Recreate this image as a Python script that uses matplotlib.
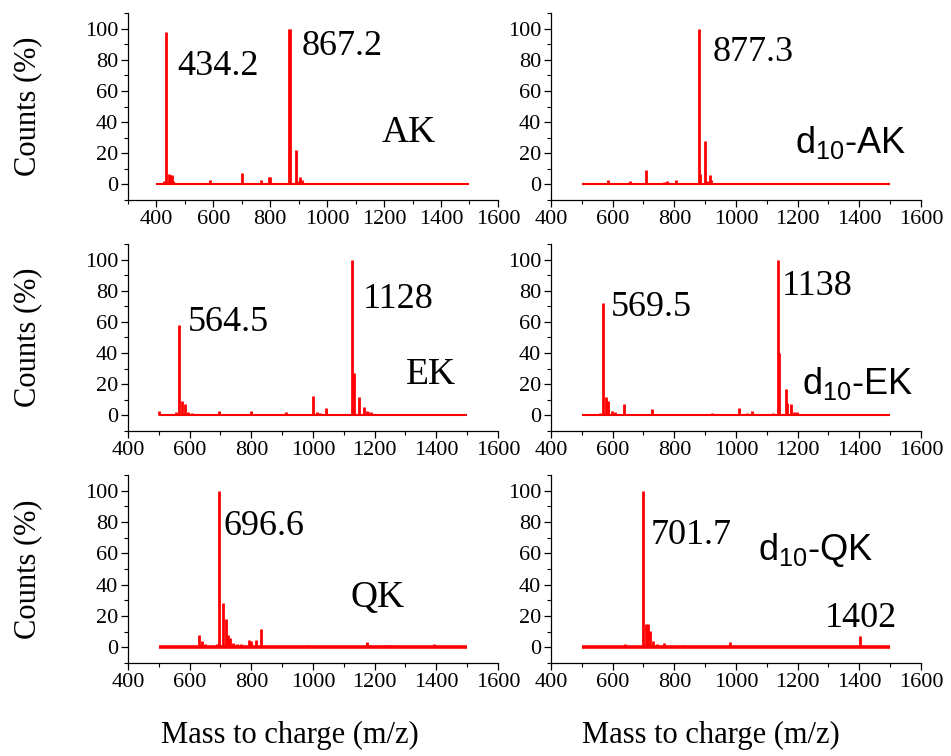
import matplotlib
matplotlib.use("Agg")
import matplotlib.pyplot as plt
from matplotlib.ticker import MultipleLocator

plt.rcParams["font.family"] = "Liberation Serif"
plt.rcParams["mathtext.fontset"] = "custom"
plt.rcParams["mathtext.rm"] = "Liberation Sans"
plt.rcParams["mathtext.it"] = "Liberation Sans"

# peak lists (m/z, relative counts %)
ak_mz = [425, 435, 445, 449, 453, 457, 470, 588, 650, 700, 722, 767, 797, 800,
         867, 870, 889, 901, 904, 910, 916, 966, 1272, 1293, 1363]
ak_int = [2, 98, 7, 6, 6, 2, 1, 3, 0.5, 7.5, 1, 3, 5, 5,
          100, 100, 22, 2, 5, 3, 1, 0.5, 0.5, 0.5, 0.5]
ak_range = [400, 1500]

dak_mz = [543, 586, 657, 709, 733, 766, 777, 805, 830, 879, 882, 899, 907, 915,
          920, 977, 1004, 1110, 1281, 1308, 1350, 1368]
dak_int = [1, 3, 2, 9, 0.8, 1.5, 2, 3, 0.5, 100, 7, 28, 2, 6,
           3, 1, 0.5, 0.5, 0.5, 0.5, 0.5, 0.5]
dak_range = [500, 1500]

ek_mz = [502, 523, 556, 566, 576, 585, 593, 607, 630, 696, 799, 870, 877, 912,
         999, 1013, 1023, 1042, 1128, 1133, 1150, 1167, 1175, 1180, 1188, 1198, 1259]
ek_int = [3, 1, 2, 58, 9, 7, 2, 1.5, 1, 3, 3, 1, 1, 2.5,
          12.5, 2, 1.5, 4.5, 100, 27, 11.5, 5.5, 3, 2, 2.5, 1, 0.5]
ek_range = [500, 1500]

dek_mz = [503, 527, 559, 569, 579, 586, 598, 609, 622, 638, 706, 726, 806, 922,
          1009, 1036, 1051, 1070, 1121, 1137, 1141, 1161, 1167, 1177, 1188, 1199, 1215, 1232]
dek_int = [1, 1, 1.5, 72, 12, 9, 3, 2, 1, 7.5, 1, 4, 1, 1.5,
           4.5, 1.5, 3, 1, 1.5, 100, 40, 17, 8, 7.5, 2, 2.5, 0.5, 0.5]
dek_range = [500, 1500]

qk_mz = [574, 631, 639, 650, 688, 696, 707, 717, 725, 731, 742, 752, 768, 794, 798,
         814, 830, 845, 870, 895, 920, 979, 1174, 1185, 1210, 1238, 1251, 1264, 1394]
qk_int = [1, 8, 4, 2, 2, 100, 28, 18, 8, 6, 3, 2, 2, 5, 4,
          4.5, 12, 1, 1, 1, 1, 1.5, 3.5, 1.5, 1.5, 1.5, 1.5, 1.5, 2]
qk_range = [500, 1500]

dqk_mz = [576, 630, 641, 674, 700, 709, 715, 722, 731, 744, 766, 804, 831, 893,
          982, 1042, 1161, 1287, 1403, 1427, 1443]
dqk_int = [0.5, 1, 2, 1, 100, 15, 15, 10.5, 4, 2, 2.5, 1, 1.5, 1,
           3.5, 0.5, 0.5, 0.5, 7, 0.5, 0.5]
dqk_range = [500, 1500]

fig = plt.figure(figsize=(9.51, 7.56), dpi=100)

left_x, right_x, w = 0.1346, 0.5794, 0.389
rows_y = [0.7354, 0.4299, 0.123]
h = 0.2474


def panel(pos, mz, inten, rng, xlim, base_lw):
    ax = fig.add_axes(pos)
    ax.plot(rng, [0, 0], color="red", lw=base_lw, solid_capstyle="butt")
    ax.vlines(mz, 0, inten, color="red", lw=2.0)
    ax.set_xlim(*xlim)
    ax.set_ylim(-10, 110)
    ax.set_xticks(range(400, 1601, 200))
    ax.xaxis.set_minor_locator(MultipleLocator(100))
    ax.set_yticks(range(0, 101, 20))
    ax.yaxis.set_minor_locator(MultipleLocator(10))
    for s in ("top", "right"):
        ax.spines[s].set_visible(False)
    for s in ("left", "bottom"):
        ax.spines[s].set_linewidth(0.9)
    ax.tick_params(which="major", direction="out", length=5, width=0.9,
                   labelsize=16, pad=2)
    ax.tick_params(which="minor", direction="out", length=3, width=0.8)
    return ax


ax1 = panel([left_x, rows_y[0], w, h], ak_mz, ak_int, ak_range, (300, 1600), 1.5)
ax2 = panel([right_x, rows_y[0], w, h], dak_mz, dak_int, dak_range, (400, 1600), 1.5)
ax3 = panel([left_x, rows_y[1], w, h], ek_mz, ek_int, ek_range, (400, 1600), 1.5)
ax4 = panel([right_x, rows_y[1], w, h], dek_mz, dek_int, dek_range, (400, 1600), 1.5)
ax5 = panel([left_x, rows_y[2], w, h + 0.0013], qk_mz, qk_int, qk_range, (400, 1600), 2.6)
ax6 = panel([right_x, rows_y[2], w, h + 0.0013], dqk_mz, dqk_int, dqk_range, (400, 1600), 2.6)

num = dict(fontsize=26, ha="left", va="baseline")
ax1.text(472, 70, "434.2", **num)
ax1.text(911, 83, "867.2", **num)
ax1.text(1192, 27, "AK", fontsize=27, ha="left", va="baseline")
ax2.text(923, 79.5, "877.3", **num)
ax2.text(1190, 20, r"d$_{\mathregular{10}}$-AK", family="Liberation Sans",
         fontsize=26, ha="left", va="baseline")

ax3.text(595, 54, "564.5", **num)
ax3.text(1162, 69, "1128", **num)
ax3.text(1302, 20, "EK", fontsize=27, ha="left", va="baseline")
ax4.text(595, 63.5, "569.5", **num)
ax4.text(1148, 77.5, "1138", **num)
ax4.text(1213, 13.5, r"d$_{\mathregular{10}}$-EK", family="Liberation Sans",
         fontsize=26, ha="left", va="baseline")

ax5.text(711, 72, "696.6", **num)
ax5.text(1123, 26, "QK", fontsize=27, ha="left", va="baseline")
ax6.text(722, 66, "701.7", **num)
ax6.text(1070, 56, r"d$_{\mathregular{10}}$-QK", family="Liberation Sans",
         fontsize=26, ha="left", va="baseline")
ax6.text(1288, 13, "1402", **num)

for yc in (106, 337, 569):
    fig.text(28 / 951, 1 - yc / 756, "Counts (%)", rotation=90,
             ha="center", va="center", fontsize=22)
for xc in (290, 711):
    fig.text(xc / 951, 1 - 735 / 756, "Mass to charge (m/z)",
             ha="center", va="center", fontsize=22)

fig.savefig("out.png", dpi=100)
